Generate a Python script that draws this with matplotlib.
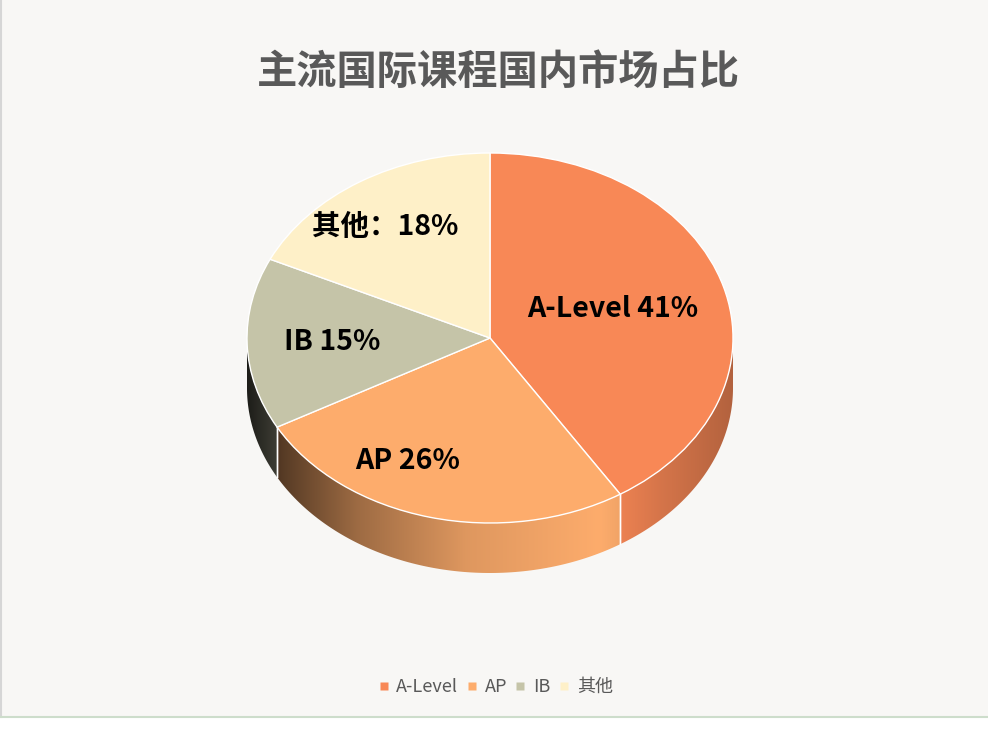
import numpy as np
import matplotlib
matplotlib.use("Agg")
import matplotlib.pyplot as plt
from matplotlib.patches import Polygon, Rectangle
from matplotlib.lines import Line2D

plt.rcParams['font.family'] = ['Noto Sans CJK SC', 'DejaVu Sans']

# 数据
categories = ["A-Level", "AP", "IB", "其他"]
shares = [41, 26, 15, 18]
label_texts = ["A-Level 41%", "AP 26%", "IB 15%", "其他：18%"]
colors = ["#F88856", "#FDAC6C", "#C5C4A8", "#FEF0C8"]
title = "主流国际课程国内市场占比"

W, H = 988, 731
CX, CY, RX, RY = 490, 338, 243, 185   # 顶面椭圆(像素)
DEPTH = 50 / RY                        # 侧面厚度(数据单位)

fig = plt.figure(figsize=(W / 100, H / 100), dpi=100)
fig.patch.set_facecolor("white")
fig.patches.append(Rectangle((0.0, 1 - 717 / H), 1, 717 / H, transform=fig.transFigure,
                             facecolor="#F8F7F5", edgecolor="none", zorder=-10))
fig.add_artist(Line2D([0.0015, 0.0015], [1 - 717 / H, 1], transform=fig.transFigure,
                      color="#D6D6D6", lw=1.5, zorder=-9))
fig.add_artist(Line2D([0, 1], [1 - 717 / H, 1 - 717 / H], transform=fig.transFigure,
                      color="#CDDDCB", lw=1.5, zorder=-9))

ax = fig.add_axes([0, 0, 1, 1])
ax.patch.set_alpha(0)
wedges, _ = ax.pie(shares, colors=colors, startangle=90, counterclock=False, radius=1,
                   wedgeprops=dict(edgecolor="white", linewidth=1.0, zorder=5))
ax.set_aspect("auto")
ax.axis("off")


def shade(x):
    return np.interp(x, [-1.0, -0.85, -0.55, -0.1, 0.45, 0.7, 1.0],
                     [0.15, 0.35, 0.62, 0.88, 1.0, 0.86, 0.72])


xs = np.linspace(-1, 1, 400)
fac = shade(xs)

# 侧面(前半圈可见部分)
for w, c in zip(wedges, colors):
    a, b = w.theta1, w.theta2
    base = np.array(matplotlib.colors.to_rgb(c))
    for off in (-360, 0, 360):
        lo, hi = max(a, -180 + off), min(b, 0 + off)
        if hi <= lo:
            continue
        t = np.radians(np.linspace(lo, hi, 100))
        top = np.column_stack([np.cos(t), np.sin(t)])
        bot = top[::-1] - [0, DEPTH]
        poly = Polygon(np.vstack([top, bot]), closed=True, facecolor="none",
                       edgecolor="none", zorder=2)
        ax.add_patch(poly)
        img = np.clip(base[None, None, :] * fac[None, :, None], 0, 1)
        im = ax.imshow(img, extent=(-1, 1, -1 - DEPTH, 0), aspect="auto",
                       interpolation="bilinear", zorder=2)
        im.set_clip_path(poly)
        # 分界处白线
        for ang in (lo, hi):
            if -180 + off < ang < 0 + off:
                x0, y0 = np.cos(np.radians(ang)), np.sin(np.radians(ang))
                ax.plot([x0, x0], [y0, y0 - DEPTH], color="white", lw=1.0, zorder=3)

ax.set_xlim((0 - CX) / RX, (W - CX) / RX)
ax.set_ylim((CY - H) / RY, CY / RY)

# 数据标签
label_px = [(613, 309), (408, 461), (332, 342), (385, 227)]
for txt, (px, py) in zip(label_texts, label_px):
    ax.text((px - CX) / RX, (CY - py) / RY, txt, ha="center", va="center",
            fontsize=20.5, fontweight="bold", color="black", zorder=10)

fig.text(498 / W, 1 - 72 / H, title, ha="center", va="center", fontsize=29,
         fontweight="bold", color="#595959")

handles = [Line2D([], [], marker="s", linestyle="none", markersize=5.5,
                  markerfacecolor=c, markeredgecolor="none") for c in colors]
fig.legend(handles, categories, loc="center", bbox_to_anchor=(495 / W, 1 - 687 / H),
           ncol=4, frameon=False, fontsize=13, handlelength=0.7, handletextpad=0.35,
           columnspacing=0.4, labelcolor="#595959")

fig.savefig("out.png", dpi=100, facecolor=fig.get_facecolor())
